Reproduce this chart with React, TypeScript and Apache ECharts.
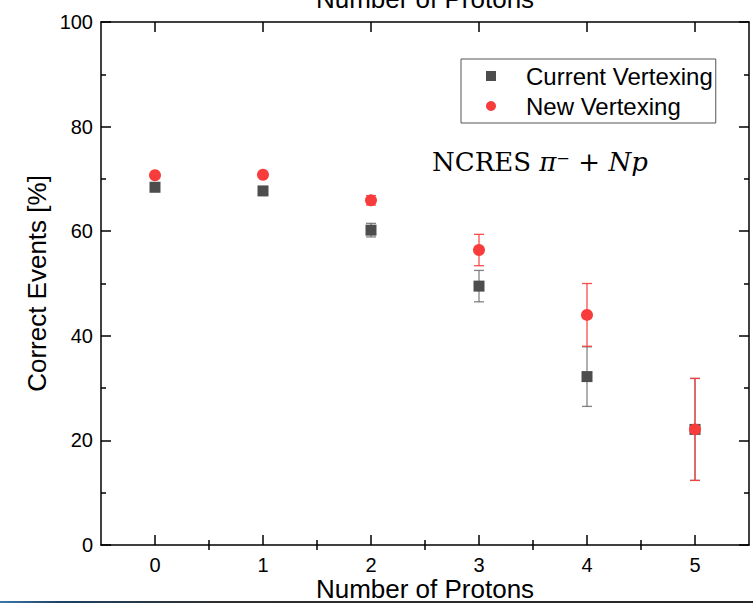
import React, { useEffect, useRef } from "react";
import * as echarts from "echarts";

const protons = [0, 1, 2, 3, 4, 5];
const currentValues = [68.4, 67.7, 60.2, 49.5, 32.2, 22.1];
const currentErrors = [0.4, 0.4, 1.3, 3.0, 5.7, 9.75];
const newValues = [70.7, 70.8, 65.9, 56.4, 44.0, 22.1];
const newErrors = [0.4, 0.4, 0.9, 3.0, 6.0, 9.75];
const majorXTicks = [0, 1, 2, 3, 4, 5];
const minorXTicks = [0.5, 1.5, 2.5, 3.5, 4.5];

const FONT = "'Liberation Sans', Arial, sans-serif";
const GRAY = "#4d4d4d";
const RED = "#f83c3c";

function errorSeries(name: string, values: number[], errs: number[], color: string) {
  return {
    type: "custom",
    name,
    xAxisIndex: 0,
    yAxisIndex: 0,
    silent: true,
    encode: { x: 0, y: [1, 2] },
    data: protons.map((p, i) => [p, values[i] - errs[i], values[i] + errs[i]]),
    renderItem: (params: any, api: any) => {
      const x = api.value(0);
      const top = api.coord([x, api.value(2)]);
      const bot = api.coord([x, api.value(1)]);
      const w = 5;
      const style = { stroke: color, lineWidth: 1.3 };
      return {
        type: "group",
        children: [
          { type: "line", shape: { x1: top[0], y1: top[1], x2: bot[0], y2: bot[1] }, style },
          { type: "line", shape: { x1: top[0] - w, y1: top[1], x2: top[0] + w, y2: top[1] }, style },
          { type: "line", shape: { x1: bot[0] - w, y1: bot[1], x2: bot[0] + w, y2: bot[1] }, style },
        ],
      };
    },
    z: 2,
  };
}

export default function App() {
  const ref = useRef<HTMLDivElement>(null);
  useEffect(() => {
    if (!ref.current) return;
    const chart = echarts.init(ref.current, null, { renderer: "svg" });
    const axisLine = { show: true, onZero: false, lineStyle: { color: "#000", width: 1.5 } };
    const xBase = { type: "value", min: -0.5, max: 5.5, splitLine: { show: false } };
    const option: any = {
      animation: false,
      backgroundColor: "#fff",
      grid: { left: 101, right: 4, top: 22, bottom: 58, containLabel: false, outerBoundsMode: "none" },
      graphic: [
        {
          type: "text",
          x: 425,
          y: -1,
          style: {
            text: "Number of Protons",
            font: `26px ${FONT}`,
            fill: "#000",
            textAlign: "center",
            textVerticalAlign: "middle",
          },
        },
        {
          type: "text",
          x: 432,
          y: 162,
          style: {
            text: "{n|NCRES }{i|π}{n|⁻ + }{i|Np}",
            textVerticalAlign: "middle",
            rich: {
              n: { fontFamily: "'DejaVu Serif', serif", fontSize: 26, fill: "#000" },
              i: { fontFamily: "'DejaVu Serif', serif", fontSize: 26, fontStyle: "italic", fill: "#000" },
            },
          },
        },
        {
          type: "rect",
          shape: { x: 0, y: 601, width: 753, height: 2 },
          style: {
            fill: new echarts.graphic.LinearGradient(0, 0, 1, 0, [
              { offset: 0, color: "#3a78aa" },
              { offset: 0.08, color: "#1d4262" },
              { offset: 0.3, color: "#2e2e2e" },
              { offset: 1, color: "#262626" },
            ]),
          },
          silent: true,
        },
      ],
      legend: {
        orient: "vertical",
        left: 461,
        top: 59,
        padding: [5, 3, 5, 25],
        itemGap: 6,
        itemWidth: 10,
        itemHeight: 10,
        borderColor: "#555",
        borderWidth: 1,
        backgroundColor: "#fff",
        formatter: "{sp| }{name}",
        textStyle: {
          fontFamily: FONT,
          fontSize: 24,
          lineHeight: 24,
          color: "#000",
          rich: { sp: { width: 25, fontSize: 24 } },
        },
        data: [
          { name: "Current Vertexing", icon: "rect" },
          { name: "New Vertexing", icon: "circle" },
        ],
      },
      xAxis: [
        {
          ...xBase,
          position: "bottom",
          axisLine,
          axisTick: { show: true, inside: true, length: 10, customValues: majorXTicks, lineStyle: { color: "#000", width: 1.5 } },
          axisLabel: { show: true, customValues: majorXTicks, fontFamily: FONT, fontSize: 20, color: "#000", margin: 10 },
          name: "Number of Protons",
          nameLocation: "middle",
          nameGap: 31,
          nameMoveOverlap: false,
          nameTextStyle: { fontFamily: FONT, fontSize: 26, color: "#000" },
        },
        {
          ...xBase,
          position: "bottom",
          axisLine: { show: false },
          axisTick: { show: true, inside: true, length: 5, customValues: minorXTicks, lineStyle: { color: "#000", width: 1.5 } },
          axisLabel: { show: false },
        },
        {
          ...xBase,
          position: "top",
          axisLine,
          axisTick: { show: true, inside: true, length: 10, customValues: majorXTicks, lineStyle: { color: "#000", width: 1.5 } },
          axisLabel: { show: false },
        },
        {
          ...xBase,
          position: "top",
          axisLine: { show: false },
          axisTick: { show: true, inside: true, length: 5, customValues: minorXTicks, lineStyle: { color: "#000", width: 1.5 } },
          axisLabel: { show: false },
        },
      ],
      yAxis: [
        {
          type: "value",
          min: 0,
          max: 100,
          interval: 20,
          position: "left",
          axisLine,
          axisTick: { show: true, inside: true, length: 10, lineStyle: { color: "#000", width: 1.5 } },
          minorTick: { show: true, splitNumber: 2, length: 5, lineStyle: { color: "#000", width: 1.5 } },
          splitLine: { show: false },
          minorSplitLine: { show: false },
          axisLabel: { fontFamily: FONT, fontSize: 20, color: "#000", margin: 8 },
          name: "Correct Events [%]",
          nameLocation: "middle",
          nameGap: 51,
          nameMoveOverlap: false,
          nameTextStyle: { fontFamily: FONT, fontSize: 26, color: "#000" },
        },
        {
          type: "value",
          min: 0,
          max: 100,
          interval: 20,
          position: "right",
          axisLine,
          axisTick: { show: true, inside: true, length: 10, lineStyle: { color: "#000", width: 1.5 } },
          minorTick: { show: true, splitNumber: 2, length: 5, lineStyle: { color: "#000", width: 1.5 } },
          splitLine: { show: false },
          minorSplitLine: { show: false },
          axisLabel: { show: false },
        },
      ],
      series: [
        errorSeries("Current error", currentValues, currentErrors, "rgba(90,90,90,0.75)"),
        {
          type: "scatter",
          name: "Current Vertexing",
          xAxisIndex: 0,
          yAxisIndex: 0,
          symbol: "rect",
          symbolSize: 11,
          itemStyle: { color: GRAY, opacity: 1 },
          data: protons.map((p, i) => [p, currentValues[i]]),
          z: 3,
        },
        errorSeries("New error", newValues, newErrors, "rgba(248,60,60,0.9)"),
        {
          type: "scatter",
          name: "New Vertexing",
          xAxisIndex: 0,
          yAxisIndex: 0,
          symbol: "circle",
          symbolSize: 12,
          itemStyle: { color: RED, opacity: 1 },
          data: protons.map((p, i) => [p, newValues[i]]),
          z: 5,
        },
      ],
    };
    chart.setOption(option);
    return () => chart.dispose();
  }, []);
  return (
    <div
      ref={ref}
      style={{ position: "fixed", left: 0, top: 0, width: 753, height: 603, background: "#fff" }}
    />
  );
}
